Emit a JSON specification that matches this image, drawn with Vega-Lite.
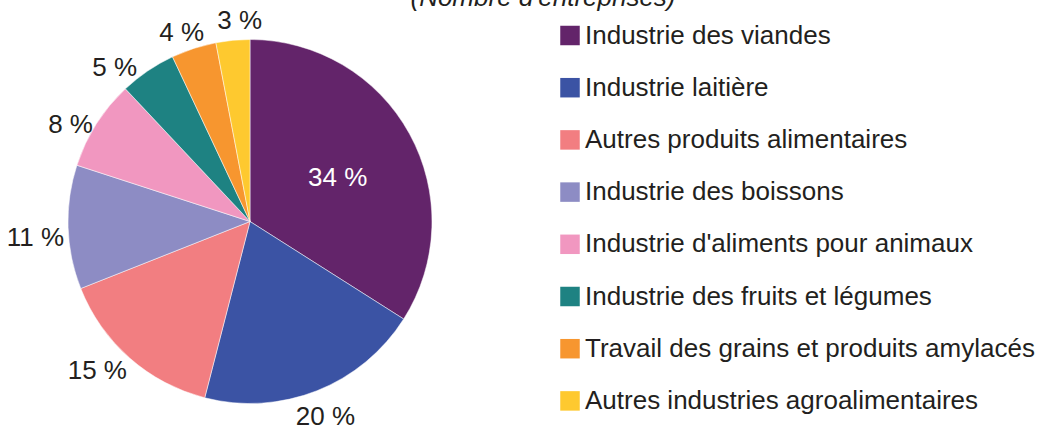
{
  "$schema": "https://vega.github.io/schema/vega-lite/v6.json",
  "width": 500,
  "height": 443,
  "autosize": {"type": "none"},
  "padding": {"left": 0, "top": 0, "right": 539, "bottom": 0},
  "background": "white",
  "config": {"view": {"stroke": null}, "font": "Liberation Sans", "text": {"fontSize": 26, "color": "#231f20", "font": "Liberation Sans"}},
  "title": {
    "text": "(Nombre d'entreprises)",
    "fontSize": 26,
    "fontStyle": "italic",
    "fontWeight": "normal",
    "color": "#231f20",
    "font": "Liberation Sans",
    "anchor": "middle",
    "frame": "group",
    "dx": 293,
    "offset": 0,
    "dy": 32,
    "baseline": "alphabetic"
  },
  "data": {
    "values": [
      {"idx": 1, "category": "Industrie des viandes", "value": 34, "label": "34 %"},
      {"idx": 2, "category": "Industrie laitière", "value": 20, "label": "20 %"},
      {"idx": 3, "category": "Autres produits alimentaires", "value": 15, "label": "15 %"},
      {"idx": 4, "category": "Industrie des boissons", "value": 11, "label": "11 %"},
      {"idx": 5, "category": "Industrie d'aliments pour animaux", "value": 8, "label": "8 %"},
      {"idx": 6, "category": "Industrie des fruits et légumes", "value": 5, "label": "5 %"},
      {"idx": 7, "category": "Travail des grains et produits amylacés", "value": 4, "label": "4 %"},
      {"idx": 8, "category": "Autres industries agroalimentaires", "value": 3, "label": "3 %"}
    ]
  },
  "encoding": {
    "theta": {"field": "value", "type": "quantitative", "stack": true},
    "order": {"field": "idx", "type": "quantitative"}
  },
  "layer": [
    {
      "mark": {"type": "arc", "outerRadius": 182, "stroke": "white", "strokeWidth": 0.5},
      "encoding": {
        "color": {
          "field": "category",
          "type": "nominal",
          "scale": {
            "domain": ["Industrie des viandes", "Industrie laitière", "Autres produits alimentaires", "Industrie des boissons", "Industrie d'aliments pour animaux", "Industrie des fruits et légumes", "Travail des grains et produits amylacés", "Autres industries agroalimentaires"],
            "range": ["#63246a", "#3b53a4", "#f27e81", "#8d8cc4", "#f197c0", "#1e8282", "#f7962f", "#fec92f"]
          },
          "legend": {
            "title": null,
            "orient": "none",
            "legendX": 557,
            "legendY": 22.5,
            "symbolType": "square",
            "symbolSize": 380,
            "symbolStrokeWidth": 0,
            "symbolOpacity": 1,
            "labelFontSize": 26,
            "labelFont": "Liberation Sans",
            "labelColor": "#231f20",
            "labelOffset": 2,
            "labelLimit": 600,
            "rowPadding": 26.2,
            "padding": 0
          }
        }
      }
    },
    {
      "mark": {"type": "text", "radius": 100, "dy": 5, "color": "white"},
      "encoding": {"text": {"condition": {"test": "datum.idx != 1", "value": ""}, "field": "label", "type": "nominal"}}
    },
    {
      "mark": {"type": "text", "radius": 205, "dy": 5, "align": "center"},
      "encoding": {"text": {"condition": {"test": "datum.idx != 2", "value": ""}, "field": "label", "type": "nominal"}}
    },
    {
      "mark": {"type": "text", "radius": 186, "dy": 10, "align": "right"},
      "encoding": {"text": {"condition": {"test": "datum.idx != 3", "value": ""}, "field": "label", "type": "nominal"}}
    },
    {
      "mark": {"type": "text", "radius": 186, "dy": 11, "align": "right"},
      "encoding": {"text": {"condition": {"test": "datum.idx != 4", "value": ""}, "field": "label", "type": "nominal"}}
    },
    {
      "mark": {"type": "text", "radius": 186, "dy": 3, "align": "right"},
      "encoding": {"text": {"condition": {"test": "datum.idx != 5", "value": ""}, "field": "label", "type": "nominal"}}
    },
    {
      "mark": {"type": "text", "radius": 192, "dx": -5, "dy": 5, "align": "right"},
      "encoding": {"text": {"condition": {"test": "datum.idx != 6", "value": ""}, "field": "label", "type": "nominal"}}
    },
    {
      "mark": {"type": "text", "radius": 205, "dx": -5, "dy": 6, "align": "center"},
      "encoding": {"text": {"condition": {"test": "datum.idx != 7", "value": ""}, "field": "label", "type": "nominal"}}
    },
    {
      "mark": {"type": "text", "radius": 205, "dx": 9, "dy": 4, "align": "center"},
      "encoding": {"text": {"condition": {"test": "datum.idx != 8", "value": ""}, "field": "label", "type": "nominal"}}
    }
  ]
}
